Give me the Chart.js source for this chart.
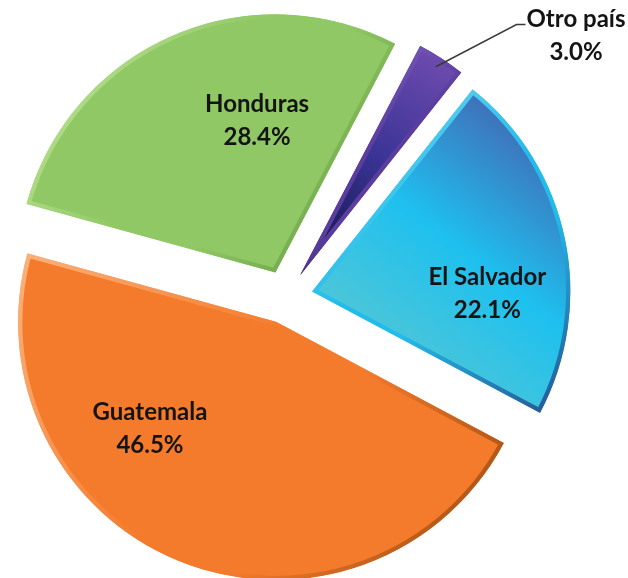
<!DOCTYPE html>
<html>
<head>
<meta charset="utf-8">
<script src="https://cdn.jsdelivr.net/npm/chart.js@4.4.1/dist/chart.umd.min.js"></script>
<style>
  html, body { margin: 0; padding: 0; background: #ffffff; }
  #wrap { width: 628px; height: 578px; position: relative; }
</style>
</head>
<body>
<div id="wrap"><canvas id="chart" width="628" height="578"></canvas></div>
<script>
// ---- data ----
const categories = ['Guatemala', 'Honduras', 'Otro país', 'El Salvador'];
const shares = [46.5, 28.4, 3.0, 22.1];
const shareLabels = ['46.5%', '28.4%', '3.0%', '22.1%'];

// ---- styles ----
const baseColors  = ['#F47B2C', '#8FC864', '#5A3D9E', '#22BCEB'];
const lightEdges  = ['#FBB27C', '#C9E8A2', '#8A6CC8', '#7FDDF2'];
const darkEdges   = ['#94480F', '#5A8F38', '#14143F', '#27508E'];

const ROTATION = 118;   // degrees, start of first slice
const EXPLODE = 27;     // px each slice is pulled out
const RADIUS = 258;

function sliceGeom(chart, i) {
  const a = chart.chartArea;
  const cx = (a.left + a.right) / 2, cy = (a.top + a.bottom) / 2;
  const total = shares.reduce((s, v) => s + v, 0);
  let start = (ROTATION - 90) * Math.PI / 180;
  for (let k = 0; k < i; k++) start += shares[k] / total * 2 * Math.PI;
  const end = start + shares[i] / total * 2 * Math.PI;
  return { cx, cy, start, end, mid: (start + end) / 2 };
}

function sliceBox(g) {
  const pts = [[g.cx, g.cy]];
  const n = 24;
  for (let k = 0; k <= n; k++) {
    const t = g.start + (g.end - g.start) * k / n;
    pts.push([g.cx + Math.cos(t) * RADIUS, g.cy + Math.sin(t) * RADIUS]);
  }
  const xs = pts.map(p => p[0]), ys = pts.map(p => p[1]);
  return { x0: Math.min(...xs), y0: Math.min(...ys), x1: Math.max(...xs), y1: Math.max(...ys) };
}

function fillFor(ctx) {
  const chart = ctx.chart, i = ctx.dataIndex;
  if (!chart.chartArea) return baseColors[i];
  const g = sliceGeom(chart, i);
  const c = chart.ctx;
  if (categories[i] === 'El Salvador') {
    const p0a = g.start + (g.end - g.start) * 0.17;
    const x0 = g.cx + Math.cos(p0a) * RADIUS, y0 = g.cy + Math.sin(p0a) * RADIUS;
    const p1a = g.end + 0.17;
    const x1 = g.cx + Math.cos(p1a) * RADIUS * 0.24, y1 = g.cy + Math.sin(p1a) * RADIUS * 0.24;
    const gr = c.createLinearGradient(x0, y0, x1, y1);
    gr.addColorStop(0, '#3E74BC');
    gr.addColorStop(0.5, '#1EC0EF');
    gr.addColorStop(1, '#4DC6D8');
    return gr;
  }
  if (categories[i] === 'Otro país') {
    const x0 = g.cx + Math.cos(g.mid) * RADIUS, y0 = g.cy + Math.sin(g.mid) * RADIUS;
    const gr = c.createLinearGradient(x0, y0, g.cx, g.cy);
    gr.addColorStop(0, '#6E4AAE');
    gr.addColorStop(0.45, '#3A3596');
    gr.addColorStop(1, '#101040');
    return gr;
  }
  return baseColors[i];
}

function edgeFor(ctx) {
  const chart = ctx.chart, i = ctx.dataIndex;
  if (!chart.chartArea) return darkEdges[i];
  const g = sliceGeom(chart, i);
  const b = sliceBox(g);
  const gr = chart.ctx.createLinearGradient(b.x0, b.y0, b.x1, b.y1);
  gr.addColorStop(0, lightEdges[i]);
  gr.addColorStop(0.45, baseColors[i]);
  gr.addColorStop(0.6, baseColors[i]);
  gr.addColorStop(1, darkEdges[i]);
  return gr;
}

// draw each slice pulled out along its middle angle
const explodePlugin = {
  id: 'explodeSlices',
  beforeDatasetDraw(chart, args) {
    const ctx = chart.ctx;
    args.meta.data.forEach(arc => {
      const mid = (arc.startAngle + arc.endAngle) / 2;
      ctx.save();
      ctx.translate(Math.cos(mid) * EXPLODE, Math.sin(mid) * EXPLODE);
      arc.draw(ctx, chart.chartArea);
      ctx.restore();
    });
    return false;
  }
};

// data labels: name + percentage
const labelPlugin = {
  id: 'sliceLabels',
  afterDatasetsDraw(chart, args, opts) {
    const ctx = chart.ctx;
    const meta = chart.getDatasetMeta(0);
    ctx.save();
    ctx.font = opts.font;
    ctx.fillStyle = opts.color;
    ctx.textAlign = 'center';
    ctx.textBaseline = 'middle';
    meta.data.forEach((arc, i) => {
      const mid = (arc.startAngle + arc.endAngle) / 2;
      const ax = arc.x + Math.cos(mid) * EXPLODE;
      const ay = arc.y + Math.sin(mid) * EXPLODE;
      let lx, ly;
      const out = opts.outside[categories[i]];
      if (out) {
        lx = arc.x + out.dx; ly = arc.y + out.dy;
        const w = ctx.measureText(categories[i]).width;
        const line1 = ly - opts.lineGap / 2;
        const sx = ax + Math.cos(mid) * arc.outerRadius * 0.96;
        const sy = ay + Math.sin(mid) * arc.outerRadius * 0.96;
        ctx.save();
        ctx.strokeStyle = '#3a3a3a';
        ctx.lineWidth = 1.5;
        ctx.beginPath();
        ctx.moveTo(sx, sy);
        ctx.lineTo(lx - w / 2 - 10, line1 + 5);
        ctx.lineTo(lx - w / 2 - 1, line1 + 5);
        ctx.stroke();
        ctx.restore();
      } else {
        const p = opts.place[i];
        const a = arc.startAngle + (arc.endAngle - arc.startAngle) * p.t;
        lx = ax + Math.cos(a) * arc.outerRadius * p.r;
        ly = ay + Math.sin(a) * arc.outerRadius * p.r;
      }
      ctx.fillText(categories[i], lx, ly - opts.lineGap / 2);
      ctx.fillText(shareLabels[i], lx, ly + opts.lineGap / 2);
    });
    ctx.restore();
  }
};

new Chart(document.getElementById('chart'), {
  type: 'pie',
  data: {
    labels: categories,
    datasets: [{
      data: shares,
      backgroundColor: fillFor,
      borderColor: edgeFor,
      borderWidth: 4,
      borderAlign: 'inner',
      borderJoinStyle: 'round',
      offset: 0,
      clip: false
    }]
  },
  options: {
    responsive: false,
    animation: false,
    rotation: ROTATION,
    radius: RADIUS,
    layout: { padding: { left: 0, right: 56, top: 16, bottom: 0 } },
    events: [],
    plugins: {
      legend: { display: false },
      tooltip: { enabled: false },
      sliceLabels: {
        font: 'bold 24px Lato',
        color: '#141414',
        lineGap: 33,
        place: [
          { t: 0.667, r: 0.641 },
          { t: 0.663, r: 0.593 },
          { t: 0.5, r: 0.6 },
          { t: 0.657, r: 0.678 }
        ],
        outside: { 'Otro país': { dx: 290, dy: -261 } }
      }
    }
  },
  plugins: [explodePlugin, labelPlugin]
});
</script>
</body>
</html>
